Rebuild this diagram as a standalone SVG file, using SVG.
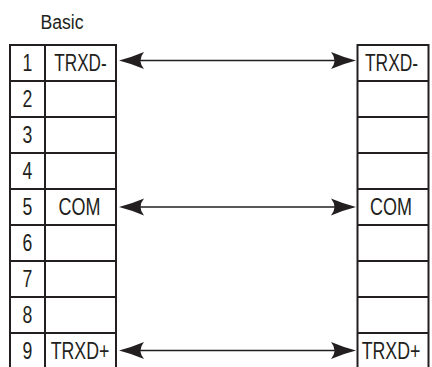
<svg xmlns="http://www.w3.org/2000/svg" width="432" height="367" viewBox="0 0 432 367">
<style>
.b{fill:none;stroke:#231f20;stroke-width:2}
.t{font-family:"Liberation Sans",Arial,sans-serif;font-size:23.5px;fill:#231f20;text-anchor:middle}
.ttl{font-family:"Liberation Sans",Arial,sans-serif;font-size:19.8px;fill:#231f20;text-anchor:middle}
.w{stroke:#231f20;stroke-width:1.3;fill:none}
.h{fill:#231f20}
</style>
<defs>
<path id="hl" d="M0,0 Q12,-3 25,-8.5 Q18,0 25,8.5 Q12,3 0,0 Z"/>
</defs>
<rect width="432" height="367" fill="#fff"/>
<text class="ttl" transform="translate(62,29) scale(0.89,1)">Basic</text>
<g id="left-connector">
<path class="b" d="M10,45 H116 M10,81 H116 M10,117 H116 M10,153 H116 M10,189 H116 M10,225 H116 M10,261 H116 M10,297 H116 M10,333 H116 M10,44 V368 M45,44 V368 M116,44 V368"/>
<text class="t" transform="translate(27.5,70.5) scale(0.75,1)">1</text>
<text class="t" transform="translate(27.5,106.5) scale(0.75,1)">2</text>
<text class="t" transform="translate(27.5,142.5) scale(0.75,1)">3</text>
<text class="t" transform="translate(27.5,178.5) scale(0.75,1)">4</text>
<text class="t" transform="translate(27.5,214.5) scale(0.75,1)">5</text>
<text class="t" transform="translate(27.5,250.5) scale(0.75,1)">6</text>
<text class="t" transform="translate(27.5,286.5) scale(0.75,1)">7</text>
<text class="t" transform="translate(27.5,322.5) scale(0.75,1)">8</text>
<text class="t" transform="translate(27.5,358.5) scale(0.75,1)">9</text>
<text class="t" transform="translate(80.5,70.5) scale(0.73,1)">TRXD-</text>
<text class="t" transform="translate(79.5,214.5) scale(0.765,1)">COM</text>
<text class="t" transform="translate(80,358.5) scale(0.756,1)">TRXD+</text>
</g>
<g id="right-connector">
<path class="b" d="M357.5,45 H428.5 M357.5,81 H428.5 M357.5,117 H428.5 M357.5,153 H428.5 M357.5,189 H428.5 M357.5,225 H428.5 M357.5,261 H428.5 M357.5,297 H428.5 M357.5,333 H428.5 M357.5,44 V368 M428.5,44 V368"/>
<text class="t" transform="translate(391.5,70.5) scale(0.74,1)">TRXD-</text>
<text class="t" transform="translate(391,214.5) scale(0.765,1)">COM</text>
<text class="t" transform="translate(391,358.5) scale(0.756,1)">TRXD+</text>
</g>
<g id="connectors">
<g id="w1">
<line class="w" x1="138" y1="60.5" x2="337" y2="60.5"/>
<use href="#hl" class="h" transform="translate(119,60.5)"/>
<use href="#hl" class="h" transform="translate(356,60.5) scale(-1,1)"/>
</g>
<g id="w5">
<line class="w" x1="138" y1="207" x2="337" y2="207"/>
<use href="#hl" class="h" transform="translate(119,207)"/>
<use href="#hl" class="h" transform="translate(356,207) scale(-1,1)"/>
</g>
<g id="w9">
<line class="w" x1="138" y1="350.5" x2="337" y2="350.5"/>
<use href="#hl" class="h" transform="translate(119,350.5)"/>
<use href="#hl" class="h" transform="translate(356,350.5) scale(-1,1)"/>
</g>
</g>
</svg>
